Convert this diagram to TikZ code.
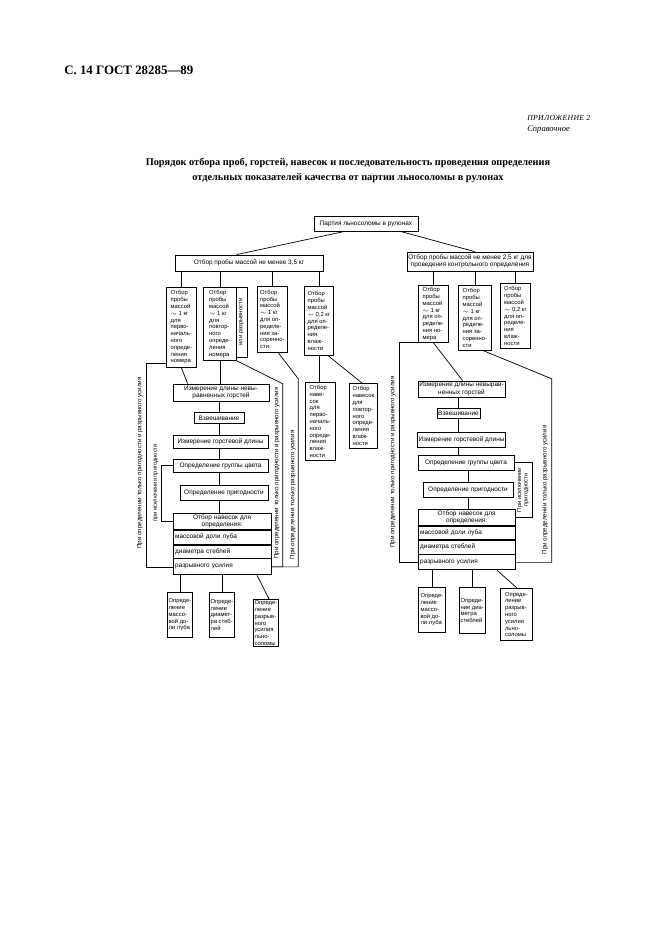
\documentclass[tikz,border=0pt]{standalone}
\usepackage{fontspec}
\setmainfont{Liberation Serif}
\setsansfont{Liberation Sans}
\usetikzlibrary{calc}
\newlength\pxu
\setlength\pxu{0.3mm}
\tikzset{
  box/.style={draw, line width=0.7pt, inner sep=1pt, font=\sffamily\fontsize{5.5}{6.4}\selectfont},
  col/.style={box, anchor=north west, align=left, inner xsep=1pt, font=\sffamily\fontsize{5}{5.8}\selectfont},
  part/.style={box, anchor=north west, align=left, inner xsep=1.5pt},
  vlabel/.style={rotate=90, inner sep=0pt, font=\sffamily\fontsize{5.3}{6}\selectfont}
}
\begin{document}
\begin{tikzpicture}[x=0.03cm, y=-0.03cm, line width=0.6pt]
  \fill[white] (0,0) rectangle (661,936);
  \useasboundingbox (0,0) rectangle (661,936);
  % header and title
  \node[anchor=west, font=\bfseries\fontsize{11}{13}\selectfont] (page) at (60,70) {С. 14 ГОСТ 28285—89};
  \node[anchor=west, font=\itshape\fontsize{6.6}{8}\selectfont\addfontfeature{LetterSpace=4}] (appx) at (523,118) {ПРИЛОЖЕНИЕ 2};
  \node[anchor=west, font=\itshape\fontsize{7.3}{9}\selectfont] (kind) at (523,130) {Справочное};
  \node[align=center, font=\bfseries\fontsize{8.8}{12.8}\selectfont] (title) at (348,170.5)
    {Порядок отбора проб, горстей, навесок и последовательность проведения определения\\
     отдельных показателей качества от партии льносоломы в рулонах};
  % lot and samples
  \node[box, minimum width=104\pxu, minimum height=15\pxu] (lot) at (366,223.5) {Партия льносоломы в рулонах};
  \node[box, minimum width=148\pxu, minimum height=16\pxu] (sampleL) at (249,263) {Отбор пробы массой не менее 3,5 кг};
  \node[box, minimum width=126\pxu, minimum height=19\pxu, align=center] (sampleR) at (470,261.5)
    {Отбор пробы массой не менее 2,5 кг для\\проведения контрольного определения};
  \draw ($(lot.south west)+(31,0)$) -- ($(sampleL.north west)+(62,0)$);
  \draw ($(lot.south east)+(-18,0)$) -- ($(sampleR.north west)+(68,0)$);
  % left samples
  \node[col, minimum width=30\pxu, minimum height=80\pxu] (A) at (166,287)
    {Отбор\\пробы\\массой\\$\sim$ 1 кг\\для\\перво-\\началь-\\ного\\опреде-\\ления\\номера};
  \node[col, minimum width=33\pxu, minimum height=73\pxu] (B) at (203,287)
    {Отбор\\пробы\\массой\\$\sim$ 1 кг\\для\\повтор-\\ного\\опреде-\\ления\\номера};
  \node[box, rotate=90, minimum width=70\pxu, minimum height=11\pxu, inner sep=0pt,
    font=\sffamily\fontsize{5}{6}\selectfont] (Bside) at (241.5,322) {или разрывности};
  \node[col, minimum width=30\pxu, minimum height=66\pxu] (C) at (257,286)
    {Отбор\\пробы\\массой\\$\sim$ 1 кг\\для оп-\\ределе-\\ния за-\\соренно-\\сти};
  \node[col, minimum width=29\pxu, minimum height=69\pxu] (D) at (304,286)
    {Отбор\\пробы\\массой\\$\sim$ 0,2 кг\\для оп-\\ределе-\\ния\\влаж-\\ности};
  \foreach \b in {A,B,C,D}
    \draw (\b.north) -- (\b.north |- sampleL.south);
  % right samples
  \node[col, minimum width=30\pxu, minimum height=57\pxu] (E) at (418,285)
    {Отбор\\пробы\\массой\\$\sim$ 1 кг\\для оп-\\ределе-\\ния но-\\мера};
  \node[col, minimum width=33\pxu, minimum height=65\pxu] (F) at (458,285)
    {Отбор\\пробы\\массой\\$\sim$ 1 кг\\для оп-\\ределе-\\ния за-\\соренно-\\сти};
  \node[col, minimum width=30\pxu, minimum height=65\pxu] (G) at (500,283)
    {Отбор\\пробы\\массой\\$\sim$ 0,2 кг\\для оп-\\ределе-\\ния\\влаж-\\ности};
  \foreach \b in {E,F,G}
    \draw (\b.north) -- (\b.north |- sampleR.south);
  % moisture portions
  \node[col, minimum width=30\pxu, minimum height=78\pxu] (wetA) at (305,382)
    {Отбор\\наве-\\сок\\для\\перво-\\началь-\\ного\\опреде-\\ления\\влаж-\\ности};
  \node[col, minimum width=28\pxu, minimum height=65\pxu] (wetB) at (349,383)
    {Отбор\\навесок\\для\\повтор-\\ного\\опреде-\\ления\\влаж-\\ности};
  \draw (D.south) -- (D.south |- wetA.north);
  \draw (D.-75) -- ($(wetB.north west)+(13,0)$);
  % left chain
  \node[box, minimum width=96\pxu, minimum height=17\pxu, align=center] (measL) at (221,392.5)
    {Измерение длины невы-\\равненных горстей};
  \node[box, minimum width=50\pxu, minimum height=11\pxu] (weighL) at (219,418) {Взвешивание};
  \node[box, minimum width=95\pxu, minimum height=13\pxu] (lenL) at (220.5,441.5) {Измерение горстевой длины};
  \node[box, minimum width=95\pxu, minimum height=13\pxu] (colorL) at (220.5,465.5) {Определение группы цвета};
  \node[box, minimum width=88\pxu, minimum height=15\pxu] (fitL) at (224,492.5) {Определение пригодности};
  \node[part, align=center, text width=94\pxu, minimum height=16\pxu] (hdrL) at (173,513) {Отбор навесок для\\определения:};
  \node[part, text width=94\pxu, minimum height=14\pxu] (lubRowL) at (hdrL.south west) {массовой доли луба};
  \node[part, text width=94\pxu, minimum height=13\pxu] (diamRowL) at (lubRowL.south west) {диаметра стеблей};
  \node[part, text width=94\pxu, minimum height=16\pxu] (breakRowL) at (diamRowL.south west) {разрывного усилия};
  \draw (A.south) -- ($(measL.north west)+(15,0)$);
  \draw (B.south) -- (B.south |- measL.north);
  \draw (measL.south -| weighL.north) -- (weighL.north);
  \draw (weighL.south) -- (weighL.south |- lenL.north);
  \draw (lenL.south -| weighL.south) -- (colorL.north -| weighL.south);
  \draw (colorL.south -| weighL.south) -- (fitL.north -| weighL.south);
  \draw (fitL.south -| weighL.south) -- (hdrL.north -| weighL.south);
  % left brackets
  \draw ($(A.south west)+(0,-4)$) -- ++(-20,0) |- (breakRowL.west);
  \draw (colorL.west) -- ++(-11,0) |- (hdrL.west);
  \draw (B.south east) -- ++(46,23) |- (breakRowL.east);
  \draw (C.-80) -- ++(20,26) |- (breakRowL.east);
  \node[vlabel] (onlyFitL) at (140,463) {При определении только пригодности и разрывного усилия};
  \node[vlabel, font=\sffamily\fontsize{4.9}{6}\selectfont] (noFitL) at (156,483) {при исключении пригодности};
  \node[vlabel] (fitBreakL) at (277,473) {При определении только пригодности и разрывного усилия};
  \node[vlabel] (onlyBreakL) at (293,495) {При определении только разрывного усилия};
  % left results
  \node[col, minimum width=25\pxu, minimum height=45\pxu] (lubL) at (167,592)
    {Опреде-\\ление\\массо-\\вой до-\\ли луба};
  \node[col, minimum width=25\pxu, minimum height=45\pxu] (diamL) at (209,592)
    {Опреде-\\ление\\диамет-\\ра стеб-\\лей};
  \node[col, minimum width=24\pxu, minimum height=44\pxu] (breakL) at (253,599)
    {Опреде-\\ление\\разрыв-\\ного\\усилия\\льно-\\соломы};
  \draw (lubL.north) -- (lubL.north |- breakRowL.south);
  \draw (diamL.north) -- (diamL.north |- breakRowL.south);
  \draw ($(breakRowL.south west)+(84,0)$) -- ($(breakL.north west)+(16,0)$);
  % right chain
  \node[box, minimum width=87\pxu, minimum height=16\pxu, align=center] (measR) at (461.5,389)
    {Измерение длины невырав-\\ненных горстей};
  \node[box, minimum width=37\pxu, minimum height=10\pxu] (weighR) at (458.5,413) {Взвешивание};
  \node[box, minimum width=87\pxu, minimum height=15\pxu] (lenR) at (461.5,439.5) {Измерение горстевой длины};
  \node[box, minimum width=96\pxu, minimum height=15\pxu] (colorR) at (466,462.5) {Определение группы цвета};
  \node[box, minimum width=90\pxu, minimum height=15\pxu] (fitR) at (468,489.5) {Определение пригодности};
  \node[part, align=center, text width=93\pxu, minimum height=16\pxu] (hdrR) at (418,509) {Отбор навесок для\\определения:};
  \node[part, text width=93\pxu, minimum height=13\pxu] (lubRowR) at (hdrR.south west) {массовой доли луба};
  \node[part, text width=93\pxu, minimum height=14\pxu] (diamRowR) at (lubRowR.south west) {диаметра стеблей};
  \node[part, text width=93\pxu, minimum height=15\pxu] (breakRowR) at (diamRowR.south west) {разрывного усилия};
  \draw (E.south) -- ($(measR.north west)+(45,0)$);
  \draw (measR.south -| weighR.north) -- (weighR.north);
  \draw (weighR.south) -- (weighR.south |- lenR.north);
  \draw (lenR.south -| weighR.south) -- (colorR.north -| weighR.south);
  \draw (fitR.north) -- (fitR.north |- colorR.south);
  \draw (fitR.south) -- (fitR.south |- hdrR.north);
  % right brackets
  \draw (E.south west) -- ++(-19,0) |- (breakRowR.west);
  \draw (F.-75) -- ++(68,28) |- (breakRowR.east);
  \draw (colorR.east) -- ++(18,0) |- (hdrR.east);
  \node[vlabel] (fitBreakR) at (393,462) {При определении только пригодности и разрывного усилия};
  \node[vlabel] (onlyBreakR) at (545,490) {При определении только разрывного усилия};
  \node[vlabel, align=center, font=\sffamily\fontsize{4.9}{5.6}\selectfont] (noFitR) at (523,490) {При исключении\\пригодности};
  % right results
  \node[col, minimum width=27\pxu, minimum height=45\pxu] (lubR) at (418,587)
    {Опреде-\\ление\\массо-\\вой до-\\ли луба};
  \node[col, minimum width=25\pxu, minimum height=46\pxu] (diamR) at (459,587)
    {Опреде-\\ние диа-\\метра\\стеблей};
  \node[col, minimum width=32\pxu, minimum height=52\pxu] (breakR) at (500,588)
    {Опреде-\\ление\\разрыв-\\ного\\усилия\\льно-\\соломы};
  \draw (lubR.north) -- (lubR.north |- breakRowR.south);
  \draw (diamR.north) -- (diamR.north |- breakRowR.south);
  \draw ($(breakRowR.south west)+(79,0)$) -- ($(breakR.north west)+(17,0)$);
\end{tikzpicture}
\end{document}
